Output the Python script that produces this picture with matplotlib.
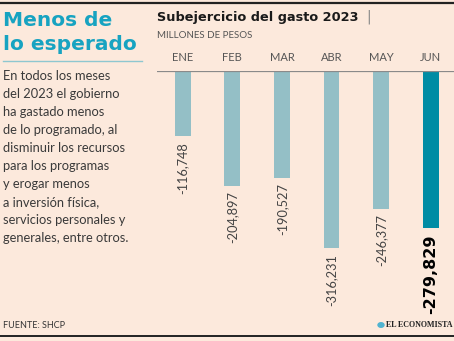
import matplotlib.pyplot as plt
from matplotlib.lines import Line2D
from matplotlib.patches import Circle

meses = ["ENE", "FEB", "MAR", "ABR", "MAY", "JUN"]
subejercicio = [-116748, -204897, -190527, -316231, -246377, -279829]
etiquetas = ["-116,748", "-204,897", "-190,527", "-316,231", "-246,377", "-279,829"]

W, H = 454, 341
bg = "#fce9dc"
claro = "#94bfc6"
oscuro = "#008ca4"

fig = plt.figure(figsize=(W / 100, H / 100), dpi=100, facecolor=bg)

def fx(px):
    return px / W

def fy(py):
    return 1 - py / H

# bar area
ax = fig.add_axes([fx(157), fy(320), fx(454 - 157), (320 - 71) / H])
ax.set_facecolor(bg)
ax.patch.set_alpha(0)
colores = [claro] * 5 + [oscuro]
x = list(range(len(meses)))
ax.bar(x, subejercicio, width=0.32, color=colores)
ax.set_xlim(-0.52, 5.47)
ax.set_ylim(-444600, 0)
ax.axhline(0, color="#8a8a8a", lw=0.9)
for s in ax.spines.values():
    s.set_visible(False)
ax.set_xticks([])
ax.set_yticks([])

for i, (v, t) in enumerate(zip(subejercicio, etiquetas)):
    if i == len(meses) - 1:
        ax.annotate(t, (i, v), xytext=(0, -5), textcoords="offset points",
                    rotation=90, ha="center", va="top", fontsize=11.5,
                    fontweight="bold", color="black")
    else:
        ax.annotate(t, (i, v), xytext=(0, -4), textcoords="offset points",
                    rotation=90, ha="center", va="top", fontsize=9.2,
                    color="#444444", family="Lato")
    ax.annotate(meses[i], (i, 0), xytext=(0, 6), textcoords="offset points",
                ha="center", va="bottom", fontsize=8, color="#555555",
                family="Lato", annotation_clip=False)

# titles
fig.text(fx(157), fy(17), "Subejercicio del gasto 2023", fontsize=9.3,
         fontweight="bold", color="#1a1a1a", va="center", ha="left")
fig.text(fx(366), fy(17), "|", fontsize=10, color="#888888", va="center")
fig.text(fx(157), fy(35), "MILLONES DE PESOS", fontsize=7, color="#555555",
         va="center", family="Lato")

# left column
fig.text(fx(3), fy(20), "Menos de", fontsize=14.5, fontweight="bold",
         color="#17a3c1", va="center")
fig.text(fx(3), fy(44), "lo esperado", fontsize=14.5, fontweight="bold",
         color="#17a3c1", va="center")
fig.add_artist(Line2D([fx(3), fx(142)], [fy(61), fy(61)], color="#8ec7d0", lw=1))

cuerpo = ("En todos los meses\ndel 2023 el gobierno\nha gastado menos\n"
          "de lo programado, al\ndisminuir los recursos\npara los programas\n"
          "y erogar menos\na inversión física,\nservicios personales y\n"
          "generales, entre otros.")
fig.text(fx(3), fy(70), cuerpo, fontsize=9.3, color="#3a3a3a", va="top",
         ha="left", linespacing=1.6, family="Lato")

fig.text(fx(3), fy(326), "FUENTE: SHCP", fontsize=6.5, color="#333333",
         va="center", family="Lato")
fig.add_artist(Circle((fx(381), fy(325)), 3 / W, color="#4fb3d0",
                      transform=fig.transFigure))
fig.text(fx(385.5), fy(325), "EL ECONOMISTA", fontsize=5.8, fontweight="bold",
         color="#222222", va="center", family="Liberation Serif")

# rules
fig.add_artist(Line2D([0, 1], [fy(3), fy(3)], color="#222222", lw=1.6))
fig.add_artist(Line2D([0, 1], [fy(336), fy(336)], color="#222222", lw=1.4))

fig.savefig("out.png", dpi=100, facecolor=bg)
